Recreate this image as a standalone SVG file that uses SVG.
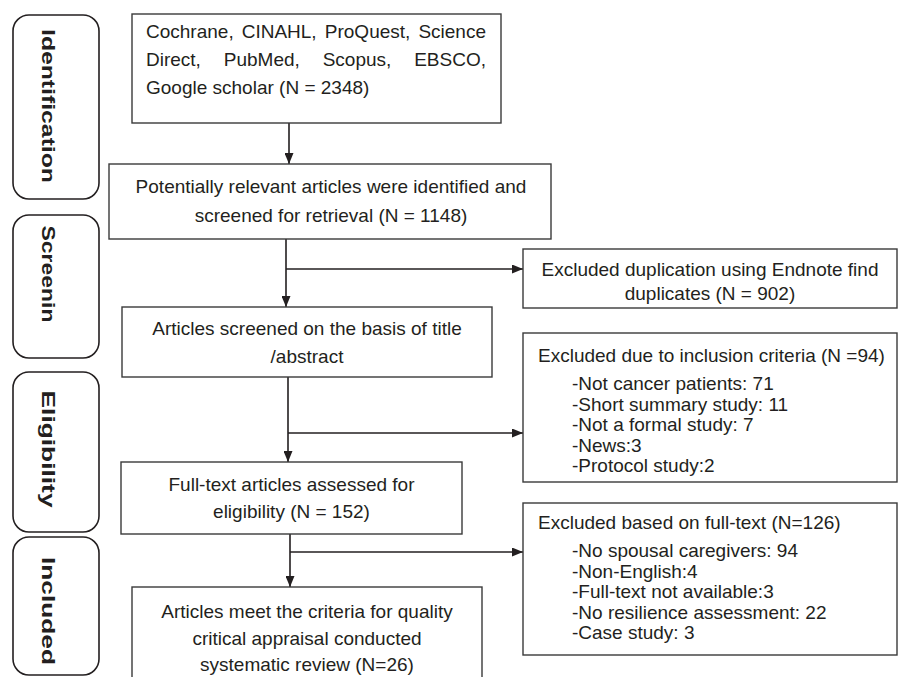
<svg xmlns="http://www.w3.org/2000/svg" width="898" height="677" viewBox="0 0 898 677">
<defs>
<marker id="arr" markerWidth="11" markerHeight="9" refX="11" refY="4.5" orient="auto" markerUnits="userSpaceOnUse">
<path d="M0,0 L11,4.5 L0,9 z" fill="#231f20"/>
</marker>
</defs>
<style>
.box{fill:#fff;stroke:#3a3a3a;stroke-width:1.4}
.stage{fill:#fff;stroke:#231f20;stroke-width:1.6}
.t{font-family:"Liberation Sans",Arial,sans-serif;font-size:19px;fill:#231f20}
.c{text-anchor:middle}
.s{font-family:"Liberation Sans",Arial,sans-serif;font-size:19px;font-weight:bold;fill:#231f20;text-anchor:middle}
.ln{fill:none;stroke:#231f20;stroke-width:1.6}
</style>
<rect width="898" height="677" fill="#fff"/>

<g id="stage-identification">
<rect class="stage" x="13" y="15" width="86" height="184" rx="16"/>
<text class="s" transform="translate(42,106) rotate(90)" textLength="154" lengthAdjust="spacingAndGlyphs">Identification</text>
</g>
<g id="stage-screening">
<rect class="stage" x="13" y="215" width="86" height="143" rx="16"/>
<text class="s" transform="translate(42,274) rotate(90)" textLength="97" lengthAdjust="spacingAndGlyphs">Screenin</text>
</g>
<g id="stage-eligibility">
<rect class="stage" x="13" y="372" width="86" height="160" rx="16"/>
<text class="s" transform="translate(42,449) rotate(90)" textLength="117" lengthAdjust="spacingAndGlyphs">Eligibility</text>
</g>
<g id="stage-included">
<rect class="stage" x="13" y="537" width="86" height="138" rx="16"/>
<text class="s" transform="translate(42,611) rotate(90)" textLength="108" lengthAdjust="spacingAndGlyphs">Included</text>
</g>

<g id="connectors">
<line class="ln" x1="289" y1="123" x2="289" y2="164" marker-end="url(#arr)"/>
<line class="ln" x1="286" y1="239" x2="286" y2="307" marker-end="url(#arr)"/>
<line class="ln" x1="286" y1="269" x2="523" y2="269" marker-end="url(#arr)"/>
<line class="ln" x1="288" y1="377" x2="288" y2="462" marker-end="url(#arr)"/>
<line class="ln" x1="288" y1="433" x2="523" y2="433" marker-end="url(#arr)"/>
<line class="ln" x1="290" y1="534" x2="290" y2="587" marker-end="url(#arr)"/>
<line class="ln" x1="290" y1="552" x2="523" y2="552" marker-end="url(#arr)"/>
</g>

<g id="databases">
<rect class="box" x="132" y="14" width="369" height="109"/>
<text class="t" y="38"><tspan x="146">Cochrane,</tspan><tspan x="241.7">CINAHL,</tspan><tspan x="324.8">ProQuest,</tspan><tspan x="418.4">Science</tspan></text>
<text class="t" y="66"><tspan x="146">Direct,</tspan><tspan x="223.8">PubMed,</tspan><tspan x="322.7">Scopus,</tspan><tspan x="414.2">EBSCO,</tspan></text>
<text class="t" x="146" y="94">Google scholar (N = 2348)</text>
</g>

<g id="identified">
<rect class="box" x="109" y="164" width="442" height="75"/>
<text class="t c" x="331" y="193">Potentially relevant articles were identified and</text>
<text class="t c" x="331" y="222">screened for retrieval (N = 1148)</text>
</g>

<g id="excluded-duplicates">
<rect class="box" x="523" y="249" width="374" height="59"/>
<text class="t c" x="710" y="276">Excluded duplication using Endnote find</text>
<text class="t c" x="710" y="300">duplicates (N = 902)</text>
</g>

<g id="screened">
<rect class="box" x="122" y="307" width="370" height="70"/>
<text class="t c" x="307" y="335">Articles screened on the basis of title</text>
<text class="t c" x="307" y="363">/abstract</text>
</g>

<g id="excluded-criteria">
<rect class="box" x="523" y="333" width="374" height="149"/>
<text class="t" x="538" y="362">Excluded due to inclusion criteria (N =94)</text>
<text class="t" x="572" y="390">-Not cancer patients: 71</text>
<text class="t" x="572" y="410.5">-Short summary study: 11</text>
<text class="t" x="572" y="431">-Not a formal study: 7</text>
<text class="t" x="572" y="451.5">-News:3</text>
<text class="t" x="572" y="472">-Protocol study:2</text>
</g>

<g id="fulltext">
<rect class="box" x="121" y="462" width="341" height="72"/>
<text class="t c" x="291.5" y="491">Full-text articles assessed for</text>
<text class="t c" x="291.5" y="518">eligibility (N = 152)</text>
</g>

<g id="excluded-fulltext">
<rect class="box" x="523" y="503" width="374" height="152"/>
<text class="t" x="538" y="529">Excluded based on full-text (N=126)</text>
<text class="t" x="572" y="557">-No spousal caregivers: 94</text>
<text class="t" x="572" y="577.5">-Non-English:4</text>
<text class="t" x="572" y="598">-Full-text not available:3</text>
<text class="t" x="572" y="618.5">-No resilience assessment: 22</text>
<text class="t" x="572" y="639">-Case study: 3</text>
</g>

<g id="included">
<rect class="box" x="132" y="587" width="350" height="100"/>
<text class="t c" x="307" y="618">Articles meet the criteria for quality</text>
<text class="t c" x="307" y="645">critical appraisal conducted</text>
<text class="t c" x="307" y="671">systematic review (N=26)</text>
</g>
</svg>
